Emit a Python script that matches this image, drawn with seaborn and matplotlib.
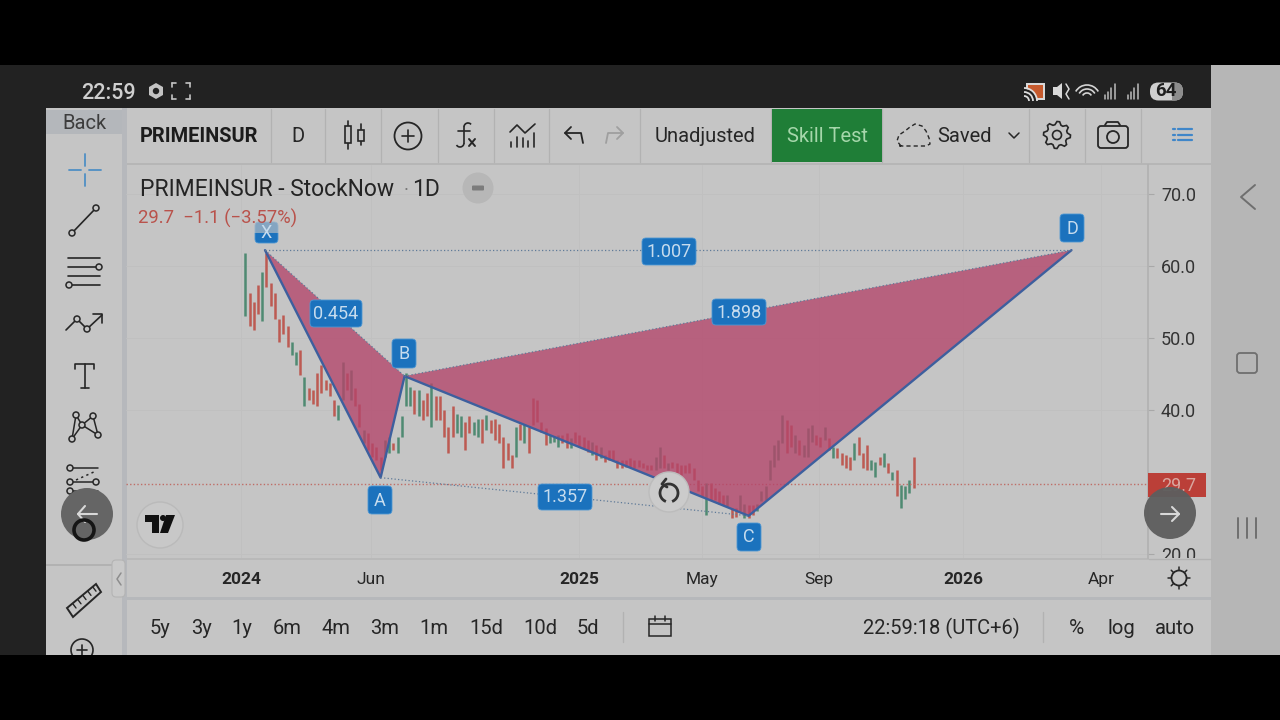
#!/usr/bin/env python3
"""Phone screenshot of a PRIMEINSUR daily chart with a harmonic pattern drawn on it"""

import numpy as np
import pandas as pd
import matplotlib
matplotlib.use('Agg')
import matplotlib.pyplot as plt
from matplotlib.patches import Rectangle, FancyBboxPatch, Circle, Polygon, Arc
import seaborn as sns

# Daily range, one bar per three sessions
bar_highs = [61.8, 56.2, 55.0, 57.4, 59.2, 61.8, 57.6, 56.2, 52.7, 53.2, 51.6, 49.5, 48.1, 48.3, 44.6, 43.0,
             42.8, 45.1, 46.3, 44.2, 43.7, 41.4, 40.7, 46.7, 45.1, 45.6, 43.0, 40.9, 37.2, 36.8, 35.4, 34.9,
             33.5, 35.8, 36.3, 35.4, 36.3, 39.1, 45.1, 43.2, 42.8, 42.8, 41.4, 42.3, 43.7, 41.9, 41.9, 40.0,
             37.7, 40.5, 39.5, 39.1, 38.4, 39.1, 38.4, 38.8, 38.8, 39.3, 38.6, 38.8, 38.1, 36.3, 35.4, 33.8,
             37.7, 38.1, 38.1, 37.7, 41.6, 41.4, 38.4, 37.5, 36.5, 36.3, 36.5, 36.5, 36.8, 36.1, 37.0, 36.5,
             36.3, 35.8, 35.6, 35.1, 34.9, 33.8, 34.4, 34.4, 33.1, 33.1, 33.1, 33.3, 33.1, 33.1, 32.6, 32.4,
             32.4, 33.5, 34.9, 33.8, 32.6, 32.8, 32.6, 32.4, 32.4, 32.6, 31.9, 30.3, 29.4, 29.8, 29.8, 29.1,
             28.7, 28.2, 28.2, 26.4, 26.4, 28.2, 27.0, 26.8, 26.8, 27.0, 28.7, 29.4, 33.1, 35.1, 35.8, 39.3,
             38.6, 37.9, 36.5, 35.8, 35.1, 37.5, 37.9, 36.5, 36.3, 37.7, 36.1, 34.9, 34.7, 34.0, 33.8, 33.5,
             35.4, 36.3, 34.0, 35.1, 33.1, 32.8, 33.5, 34.0, 32.6, 31.4, 31.7, 29.6, 29.4, 30.3, 33.5]
bar_lows = [53.0, 51.6, 51.1, 53.4, 52.3, 57.1, 54.4, 52.7, 49.5, 50.6, 48.8, 47.6, 46.3, 44.9, 40.5, 41.4,
            40.9, 40.5, 42.3, 42.8, 41.9, 39.1, 38.6, 41.4, 42.8, 41.4, 40.5, 37.7, 35.4, 34.4, 33.5, 33.1,
            31.7, 33.5, 34.0, 34.4, 34.0, 36.3, 40.5, 40.5, 39.5, 39.1, 38.6, 39.1, 37.7, 38.6, 38.6, 36.3,
            34.0, 36.3, 36.8, 36.3, 34.4, 36.8, 36.5, 36.3, 35.4, 37.2, 36.8, 35.8, 35.4, 31.9, 33.1, 31.9,
            33.5, 35.8, 35.4, 34.0, 37.9, 38.4, 37.0, 35.1, 35.4, 35.6, 34.9, 35.4, 34.7, 34.7, 35.4, 34.9,
            34.7, 34.2, 33.8, 33.1, 33.3, 32.8, 33.1, 33.1, 32.0, 32.0, 32.1, 32.1, 31.9, 32.1, 31.9, 31.7,
            31.7, 31.7, 31.9, 31.9, 31.7, 31.9, 31.2, 31.0, 31.2, 31.2, 30.3, 28.7, 28.0, 25.4, 27.5, 27.5,
            27.0, 26.8, 26.6, 25.0, 25.2, 25.9, 25.0, 25.0, 25.4, 25.9, 27.3, 27.5, 30.3, 32.1, 33.1, 35.4,
            34.0, 34.9, 34.0, 33.7, 33.5, 33.5, 35.6, 35.1, 34.9, 35.8, 34.4, 33.3, 33.3, 32.4, 31.9, 31.7,
            33.1, 33.8, 31.9, 31.7, 31.7, 30.7, 32.4, 32.1, 31.2, 30.3, 28.0, 26.4, 27.7, 28.4, 29.1]
up_bars = [0, 4, 11, 12, 14, 22, 23, 25, 28, 33, 34, 36, 37, 38, 39, 41, 44, 50, 51, 54, 55, 57, 64, 66,
           72, 73, 74, 77, 82, 84, 97, 98, 100, 109, 114, 117, 118, 121, 122, 123, 124, 125, 126, 127,
           130, 132, 133, 134, 137, 139, 144, 148, 149, 151, 153, 155, 156, 157]

# X A B C D points of the drawn pattern
pattern_sessions = [17, 99, 116, 360, 589]
pattern_prices = [62.2, 30.6, 44.7, 25.3, 62.2]

last_price = 29.7
price_ticks = [20, 40, 50, 60, 70]
price_labels = ['20.0', '40.0', '50.0', '60.0', '70.0']
time_ticks = [0, 92, 240, 327, 410, 512, 610]
time_labels = ['2024', 'Jun', '2025', 'May', 'Sep', '2026', 'Apr']
range_buttons = ['5y', '3y', '1y', '6m', '4m', '3m', '1m', '15d', '10d', '5d']
range_button_x = [160, 201, 242, 287, 336, 385, 434, 486, 540, 588]

BG = '#c5c5c5'
LINE = '#b2b2b2'
INK = '#262626'
BLUE = '#1b72bd'
RED = '#bd5a52'
GREEN = '#4f8a72'

sns.set_theme(style='white')
plt.rcParams['font.family'] = ['Roboto', 'DejaVu Sans']

fig = plt.figure(figsize=(12.8, 7.2), dpi=100, facecolor='black')


def pixel_axes(zorder):
    a = fig.add_axes([0, 0, 1, 1], zorder=zorder)
    a.set_xlim(0, 1280)
    a.set_ylim(720, 0)
    a.axis('off')
    a.patch.set_alpha(0)
    return a


back = pixel_axes(0)
ui = pixel_axes(2)


def box(a, x0, y0, x1, y1, color, **kw):
    a.add_patch(Rectangle((x0, y0), x1 - x0, y1 - y0, facecolor=color, edgecolor='none', **kw))


def seg(xs, ys, color=INK, lw=1.4, a=None, **kw):
    (a or ui).plot(xs, ys, color=color, lw=lw, solid_capstyle='round', **kw)


def label(x, y, s, size=14.5, color=INK, a=None, **kw):
    (a or ui).text(x, y, s, fontsize=size, color=color, ha=kw.pop('ha', 'center'),
                   va=kw.pop('va', 'center'), **kw)


def chip(x0, y0, x1, y1, s, a=None):
    (a or ui).add_patch(FancyBboxPatch((x0 + 4, y0 + 4), x1 - x0 - 8, y1 - y0 - 8,
                                       boxstyle='round,pad=4,rounding_size=4',
                                       facecolor=BLUE, edgecolor='#4d97d3', lw=0.6))
    label((x0 + x1) / 2, (y0 + y1) / 2 + 0.5, s, size=13, color='#c6dcee', a=a)


def dot(x, y, r=3):
    ui.add_patch(Circle((x, y), r, facecolor=BG, edgecolor=INK, lw=1.1, zorder=5))


def gear(cx, cy, outer, inner, hole):
    angles = np.arange(0, 360, 11.25)
    radii = [outer if (i % 4) in (0, 1) else inner for i in range(len(angles))]
    pts = [(cx + r * np.cos(np.radians(t)), cy + r * np.sin(np.radians(t))) for r, t in zip(radii, angles)]
    ui.add_patch(Polygon(pts, closed=True, facecolor='none', edgecolor=INK, lw=1.2))
    ui.add_patch(Circle((cx, cy), hole, facecolor='none', edgecolor=INK, lw=1.2))


# screen frame and panels
box(back, 0, 65, 1211, 655, '#222222')
box(back, 1211, 65, 1280, 655, '#b6b6b6')
box(back, 46, 108, 1211, 655, BG)
box(back, 46, 110, 124, 134, '#b4b7bb')
box(back, 122, 108, 127, 655, '#b6b8bc')
box(back, 127, 163, 1211, 165, '#b6b6b6')
box(back, 127, 558, 1211, 560, '#b9b9b9')
box(back, 127, 597, 1211, 600, '#b6b8bb')
box(back, 46, 564, 122, 565.5, '#b2b2b2')
for sx in [271, 325, 381, 438, 494, 549, 640, 771, 882, 1029, 1085, 1141]:
    seg([sx, sx], [109, 162], color=LINE, lw=0.9, a=back)

# price chart
ax = fig.add_axes([126 / 1280, 1 - 558 / 720, (1148 - 126) / 1280, (558 - 165) / 720], zorder=1)
ax.patch.set_alpha(0)
n_bars = len(bar_highs)
sessions = np.arange(n_bars) * 3 + 3
direction = ['up' if i in up_bars else 'down' for i in range(n_bars)]
bars = pd.DataFrame({'session': np.r_[sessions, sessions],
                     'price': bar_lows + bar_highs,
                     'bar': np.r_[np.arange(n_bars), np.arange(n_bars)],
                     'direction': direction + direction})
sns.lineplot(data=bars, x='session', y='price', hue='direction', units='bar', estimator=None,
             palette={'up': GREEN, 'down': RED}, lw=1.8, legend=False, sort=False, ax=ax,
             solid_capstyle='butt', zorder=2)

ax.axhline(last_price, color='#bf6d66', lw=1.0, ls=(0, (1, 1.6)), zorder=3)

# pattern fill sits over the bars
xx, aa, bb, cc, dd = list(zip(pattern_sessions, pattern_prices))
for tri in ([xx, aa, bb], [bb, cc, dd]):
    ax.fill([p[0] for p in tri], [p[1] for p in tri], color='#b4456b', alpha=0.78, lw=0, zorder=4)
legs = pd.DataFrame({'session': pattern_sessions, 'price': pattern_prices})
sns.lineplot(data=legs, x='session', y='price', color='#3d5f9e', lw=1.7, estimator=None, sort=False,
             ax=ax, zorder=5)
for p, q in [(xx, bb), (bb, dd), (xx, dd), (aa, cc)]:
    dotted = pd.DataFrame({'session': [p[0], q[0]], 'price': [p[1], q[1]]})
    sns.lineplot(data=dotted, x='session', y='price', color='#5f7a98', lw=0.9, ls=(0, (1, 1.8)),
                 estimator=None, sort=False, ax=ax, zorder=5)

ax.set_xlim(-81.6, 643.3)
ax.set_ylim(19.44, 74.03)
ax.set_xlabel('')
ax.set_ylabel('')
ax.set_xticks(time_ticks)
ax.set_xticklabels(time_labels, fontsize=12.5, color=INK)
for tl, name in zip(ax.get_xticklabels(), time_labels):
    if name.isdigit():
        tl.set_fontweight('bold')
ax.yaxis.tick_right()
ax.set_yticks(price_ticks)
ax.set_yticklabels(price_labels, fontsize=13, color='#333333')
ax.tick_params(axis='x', length=0, pad=10)
ax.tick_params(axis='y', length=4, width=0.8, color='#a8a8a8', pad=5.4)
ax.grid(True, color='#c0c0c0', lw=0.7)
for side, sp in ax.spines.items():
    sp.set_visible(side == 'right')
    sp.set_color('#b2b2b2')
ax.set_axisbelow(True)
# the 20.0 label runs under the time strip
box(ui, 1149, 558, 1211, 597, BG)
seg([1149, 1211], [558.5, 558.5], color='#b2b2b2', lw=1)

# status bar
label(108, 91, '22:59', size=15.5, color='#cfcfcf', fontweight='medium', va='center_baseline')
ui.add_patch(Polygon([(156, 83), (163, 87), (163, 95), (156, 99), (149, 95), (149, 87)],
                     facecolor='#c4c4c4', edgecolor='none'))
ui.add_patch(Circle((156, 91), 3.2, facecolor='#222222', edgecolor='none'))
for dx, dy in [(-1, -1), (1, -1), (-1, 1), (1, 1)]:
    cx, cy = 181 + dx * 9, 91 + dy * 8
    seg([cx, cx], [cy, cy - dy * 4], color='#c4c4c4', lw=1.2)
    seg([cx, cx - dx * 4], [cy, cy], color='#c4c4c4', lw=1.2)
box(ui, 1026, 83, 1045, 100, '#d8d8d8')
box(ui, 1028, 85, 1043, 98, '#c65a2d')
ui.add_patch(Polygon([(1024, 88), (1034, 92), (1037, 101), (1024, 101)], facecolor='#222222', edgecolor='none'))
for r in (5, 9, 13):
    ui.add_patch(Arc((1024, 101), r * 2, r * 2, theta1=270, theta2=360, color='#dddddd', lw=1.3))
ui.add_patch(Polygon([(1053, 87), (1057, 87), (1062, 83), (1062, 99), (1057, 95), (1053, 95)],
                     facecolor='#d8d8d8', edgecolor='none'))
seg([1066, 1069, 1066, 1069], [84, 89, 94, 99], color='#d8d8d8', lw=1.1)
for r in (5, 9, 13):
    ui.add_patch(Arc((1087, 98), r * 2, r * 2, theta1=210, theta2=330, color='#d4d4d4', lw=1.2))
for base in (1105, 1128):
    for k, hgt in enumerate((4, 7, 11, 15)):
        seg([base + k * 3.2, base + k * 3.2], [99, 99 - hgt], color='#bdbdbd', lw=1.1)
pill = FancyBboxPatch((1158.5, 91), 16, 1, boxstyle='round,pad=8.5,rounding_size=8.5',
                      facecolor='#cfcfcf', edgecolor='none')
ui.add_patch(pill)
shade = Rectangle((1172, 70), 15, 40, facecolor='#8d8d8d', edgecolor='none')
ui.add_patch(shade)
shade.set_clip_path(pill)
label(1166, 91.5, '64', size=13.5, color='#1f1f1f', fontweight='bold')

# top toolbar
label(84, 129, 'Back', size=14.5, color='#3d3d3d', va='baseline')
label(199, 142, 'PRIMEINSUR', size=14.4, color='#1c1c1c', fontweight='bold', va='baseline')
label(298, 142, 'D', size=14.5, va='baseline')
for cx, top, bot, y0, y1 in [(348, 121, 149, 126, 143), (360.5, 124, 145, 130, 141)]:
    seg([cx, cx], [top, bot], lw=1.2)
    ui.add_patch(Rectangle((cx - 3, y0), 6, y1 - y0, facecolor=BG, edgecolor=INK, lw=1.2, zorder=4))
ui.add_patch(Circle((408, 136), 13.5, facecolor='none', edgecolor=INK, lw=1.3))
seg([402, 414], [136, 136], lw=1.2)
seg([408, 408], [130, 142], lw=1.2)
# fx drawn as strokes
seg([458, 470], [131, 131], lw=1.2)
seg([464, 464], [127, 143], lw=1.2)
ui.add_patch(Arc((468, 127), 8, 8, theta1=180, theta2=320, color=INK, lw=1.2))
ui.add_patch(Arc((460, 143), 8, 8, theta1=0, theta2=150, color=INK, lw=1.2))
seg([469, 475], [139, 146], lw=1.4)
seg([475, 469], [139, 146], lw=1.4)
seg([510, 517, 525, 535], [132, 125, 133, 124], lw=1.2)
for wx, top in zip((511, 517, 523, 528, 534), (142, 137, 138, 141, 133)):
    seg([wx, wx], [147, top], lw=1.2)
seg([565, 581, 583], [133, 133, 143], lw=1.3)
seg([571, 565, 571], [127, 133, 139], lw=1.3)
seg([623, 608, 606], [133, 133, 143], color='#9f9f9f', lw=1.3)
seg([617, 623, 617], [127, 133, 139], color='#9f9f9f', lw=1.3)
label(705, 142, 'Unadjusted', size=14.5, va='baseline')
box(ui, 772, 109, 882, 162, '#1f7e37')
label(827, 142, 'Skill Test', size=14.5, color='#a6d7ab', va='baseline')
seg([901, 897, 899, 905, 910, 915, 922, 926, 929, 930, 926, 900, 901],
    [146, 141, 135, 131, 127, 124, 126, 131, 138, 144, 146, 146, 146], lw=1.0, ls=(0, (3, 2.2)))
label(964, 142, 'Saved', size=14.5, va='baseline')
seg([1009, 1014, 1019], [133, 138, 133], lw=1.1)
gear(1057, 135, 13.5, 10.5, 4.5)
ui.add_patch(FancyBboxPatch((1100, 128), 26, 18, boxstyle='round,pad=2,rounding_size=3',
                            facecolor='none', edgecolor=INK, lw=1.3))
seg([1105, 1107, 1118, 1120], [125, 122, 122, 125], lw=1.3)
ui.add_patch(Circle((1113, 137), 6, facecolor='none', edgecolor=INK, lw=1.3))
for yy in (129, 134.5, 140):
    seg([1173, 1175], [yy, yy], color='#3f86c9', lw=1.6)
    seg([1178, 1192], [yy, yy], color='#3f86c9', lw=1.6)

# chart legend
label(140, 196, 'PRIMEINSUR - StockNow', size=16.5, ha='left', color='#242424', va='baseline')
label(406, 196, '·', size=14, color='#777777', va='baseline')
label(426, 196, '1D', size=16.5, va='baseline')
ui.add_patch(Circle((478, 188), 15.5, facecolor='#b7b7b7', edgecolor='none'))
ui.add_patch(FancyBboxPatch((473, 186.5), 10, 3, boxstyle='round,pad=1', facecolor='#7c7c7c', edgecolor='none'))

# pattern labels
chip(255, 222, 278, 243, 'X')
box(ui, 253, 213, 280, 233, BG, alpha=0.62)
label(218, 224, '29.7  −1.1 (−3.57%)', size=13.3, color='#b9524b', va='baseline')
chip(310, 300, 362, 327, '0.454')
chip(392, 339, 416, 368, 'B')
chip(368, 486, 392, 514, 'A')
chip(538, 484, 592, 510, '1.357')
chip(737, 523, 761, 551, 'C')
chip(1060, 214, 1084, 242, 'D')
chip(642, 238, 696, 265, '1.007')
chip(712, 299, 766, 325, '1.898')

# price tag
box(ui, 1148, 473, 1206, 497, '#bb3f38')
label(1179, 486, '29.7', size=13, color='#d9a7a0')

# left drawing tools
for xs, ys in [([69, 81], [170, 170]), ([89, 101], [170, 170]), ([85, 85], [154, 166]), ([85, 85], [174, 186])]:
    seg(xs, ys, color='#4f8fc4', lw=1.3)
seg([72, 96], [233, 208], lw=1.2)
dot(72, 233)
dot(96, 208)
for yy in (258, 267, 276, 285):
    seg([68, 100], [yy, yy], lw=1.2)
dot(99, 267)
dot(69, 285)
seg([66, 77, 87, 102], [330, 319, 329, 315], lw=1.2)
seg([93, 102, 102], [314, 314, 323], lw=1.2)
dot(77, 319)
dot(87, 329)
seg([75, 75, 94, 94], [369, 364, 364, 369], lw=1.2)
seg([85, 85], [364, 388], lw=1.2)
seg([81, 89], [388, 388], lw=1.2)
for p, q in [((72, 439), (76, 415)), ((76, 415), (82, 425)), ((72, 439), (82, 425)),
             ((82, 425), (93, 416)), ((82, 425), (98, 435)), ((93, 416), (98, 435))]:
    seg([p[0], q[0]], [p[1], q[1]], lw=1.1)
for c in [(72, 439), (76, 415), (82, 425), (93, 416), (98, 435)]:
    dot(*c)
seg([70, 98], [468, 468], lw=1.1)
seg([76, 96], [480, 471], lw=1.1, ls=(0, (1.5, 2.2)))
seg([70, 96], [482, 482], lw=1.1)
seg([70, 98], [491, 491], lw=1.1)
for c in [(70, 468), (70, 482), (96, 482), (70, 491)]:
    dot(*c)

ui.add_patch(Circle((87, 514), 26, facecolor='#656565', edgecolor='none', zorder=6))
seg([78, 97], [514, 514], color='#d8d8d8', lw=1.5, zorder=7)
seg([85, 78, 85], [506, 514, 522], color='#d8d8d8', lw=1.5, zorder=7)
ui.add_patch(Circle((84, 530), 10, facecolor='none', edgecolor='#151515', lw=2.6, zorder=7))

# ruler and add button
ui.add_patch(Polygon([(67, 608), (96, 584), (101, 592), (73, 617)], facecolor='none', edgecolor=INK, lw=1.4))
for k in range(5):
    seg([73 + k * 5, 76 + k * 5], [604 - k * 4.2, 608 - k * 4.2], lw=1)
ui.add_patch(Circle((82, 650), 11, facecolor='none', edgecolor=INK, lw=1.2))
seg([77, 87], [650, 650], lw=1.2)
seg([82, 82], [645, 655], lw=1.2)
ui.add_patch(FancyBboxPatch((114, 562), 9, 33, boxstyle='round,pad=2,rounding_size=4', facecolor='#c9c9c9', edgecolor='#b4b4b4', lw=0.8))
seg([121, 117, 121], [573, 579, 585], color='#8d8d8d', lw=1.1)

# logo and floating buttons
ui.add_patch(Circle((160, 525), 23, facecolor='#c8c8c8', edgecolor='#bababa', lw=1))
ui.add_patch(Polygon([(145, 515), (159, 515), (159, 533), (152, 533), (152, 522), (145, 522)], facecolor='#111111', edgecolor='none'))
ui.add_patch(Circle((163, 518), 3, facecolor='#111111', edgecolor='none'))
ui.add_patch(Polygon([(166, 515), (175, 515), (168, 533), (160, 533)], facecolor='#111111', edgecolor='none'))
ui.add_patch(Circle((669, 492), 20, facecolor='#cbcbcb', edgecolor='#bcbcbc', lw=1, zorder=6))
ui.add_patch(Arc((669, 493), 18, 18, theta1=-250, theta2=70, color='#333333', lw=2, zorder=7))
seg([666, 662, 667], [479, 484, 487], color='#333333', lw=2, zorder=7)
ui.add_patch(Circle((1170, 513), 26, facecolor='#5e5e5e', edgecolor='none', alpha=0.96, zorder=6))
seg([1161, 1179], [514, 514], color='#d8d8d8', lw=1.5, zorder=7)
seg([1172, 1179, 1172], [507, 514, 521], color='#d8d8d8', lw=1.5, zorder=7)

# settings on the time strip
ui.add_patch(Circle((1179, 578), 7.5, facecolor='none', edgecolor=INK, lw=1.3))
for t in np.arange(0, 360, 45):
    ca, sa = np.cos(np.radians(t)), np.sin(np.radians(t))
    seg([1179 + 8 * ca, 1179 + 11 * ca], [578 + 8 * sa, 578 + 11 * sa], lw=1.1)

# bottom range bar
for x, s in zip(range_button_x, range_buttons):
    label(x, 634, s, size=14.5, va='baseline')
seg([623, 623], [612, 642], color=LINE, lw=1)
seg([1043, 1043], [612, 642], color=LINE, lw=1)
ui.add_patch(Rectangle((649, 619), 22, 17, facecolor='none', edgecolor=INK, lw=1.1))
seg([649, 671], [624, 624], lw=1.1)
seg([655, 655], [616, 621], lw=1.1)
seg([665, 665], [616, 621], lw=1.1)
label(941, 634, '22:59:18 (UTC+6)', size=14.5, va='baseline')
label(1077, 634, '%', size=15, va='baseline')
label(1121, 634, 'log', size=14.5, va='baseline')
label(1175, 634, 'auto', size=14.5, va='baseline')

# phone navigation
seg([1255, 1241, 1255], [185, 197, 209], color='#6f6f6f', lw=1.4)
ui.add_patch(FancyBboxPatch((1238, 354), 18, 18, boxstyle='round,pad=1,rounding_size=3', facecolor='none', edgecolor='#6f6f6f', lw=1.3))
for gx in (1238, 1247, 1256):
    seg([gx, gx], [518, 538], color='#6f6f6f', lw=1.4)

# letterbox bands on top of anything that overruns
box(ui, 0, 0, 1280, 65, 'black', zorder=20)
box(ui, 0, 655, 1280, 720, 'black', zorder=20)

fig.savefig('out.png', dpi=100)
